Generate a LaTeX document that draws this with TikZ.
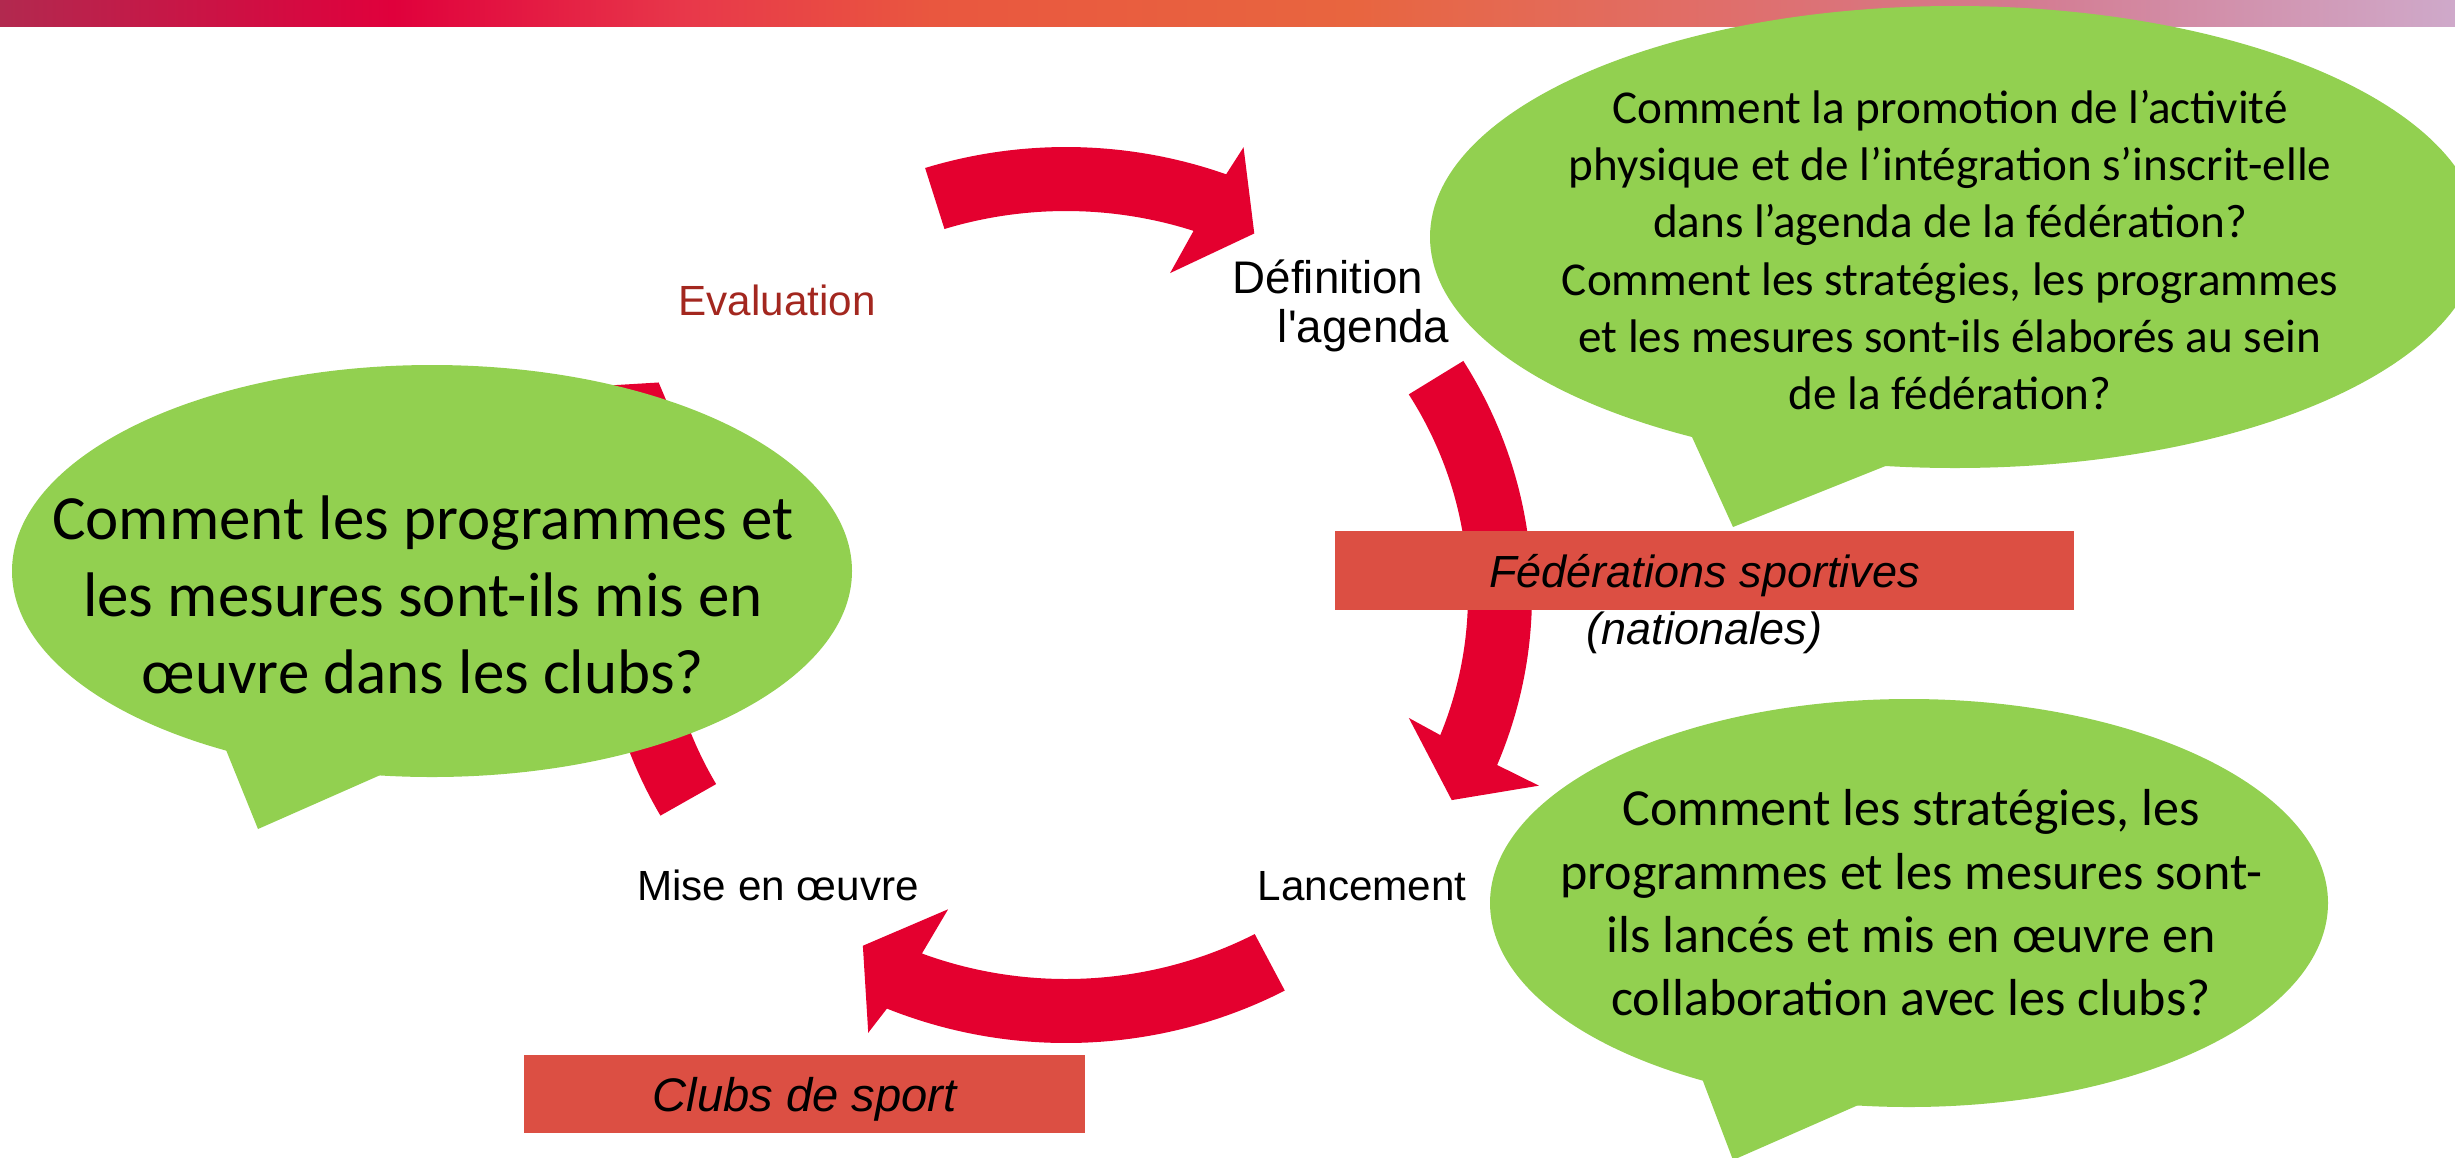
\documentclass[tikz,border=0pt]{standalone}
\usepackage{fontspec}
\setmainfont{Liberation Sans}[Ligatures=TeXOff]
\newfontfamily\calibri{Carlito}
\usetikzlibrary{positioning}

\definecolor{ringred}{HTML}{E4002F}
\definecolor{bubblegreen}{HTML}{92D050}
\definecolor{boxred}{HTML}{DC4F43}
\definecolor{evalred}{HTML}{A3271F}
\definecolor{barA}{HTML}{B2294F}
\definecolor{barB}{HTML}{E0003C}
\definecolor{barC}{HTML}{E8384A}
\definecolor{barD}{HTML}{E9573F}
\definecolor{barE}{HTML}{E8653F}
\definecolor{barF}{HTML}{E06E6A}
\definecolor{barG}{HTML}{D47A8F}
\definecolor{barH}{HTML}{CFA9CA}
% the middle 50bp of a shading is what covers the path
\pgfdeclarehorizontalshading{topbar}{100bp}{color(0bp)=(barA); color(25bp)=(barA); color(33bp)=(barB); color(39bp)=(barC); color(44bp)=(barD); color(52.5bp)=(barE); color(60bp)=(barF); color(66bp)=(barG); color(75bp)=(barH); color(100bp)=(barH)}

\tikzset{
  steplabel/.style={inner sep=0pt, font=\fontsize{12}{14}\selectfont},
  bubble/.style={fill=bubblegreen},
  question/.style={inner sep=0pt, align=center},
  actorbox/.style={fill=boxred, inner sep=0pt, font=\itshape},
}

\begin{document}
\begin{tikzpicture}[x=0.01cm,y=-0.01cm]
\useasboundingbox (0,0) rectangle (2455,1157);
\clip (0,0) rectangle (2455,1157);

% bandeau
\fill[shading=topbar] (0,0) rectangle (2455,26);

% fleches du cycle
\begin{scope}[shift={(1066,595)}]
\fill[ringred] (252.4:466 and 448) arc[start angle=252.4, end angle=290.1, x radius=466, y radius=448]
  -- (290.8:500 and 479) -- (296.5:422 and 404) -- (287.2:352 and 337)
  -- (288.5:402 and 384) arc[start angle=288.5, end angle=252.4, x radius=402, y radius=384] -- cycle;
\fill[ringred] (-31.5:466 and 448) arc[start angle=-31.5, end angle=22.3, x radius=466, y radius=448]
  -- (22.8:513 and 492) -- (29:441 and 423) -- (20.5:366 and 351)
  -- (21.4:402 and 384) arc[start angle=21.4, end angle=-31.5, x radius=402, y radius=384] -- cycle;
\fill[ringred] (62:466 and 448) arc[start angle=62, end angle=112.6, x radius=466, y radius=448]
  -- (113.4:498 and 477) -- (119:419 and 401) -- (109.8:348 and 334)
  -- (111:402 and 384) arc[start angle=111, end angle=62, x radius=402, y radius=384] -- cycle;
\fill[ringred] (150.5:466 and 448) arc[start angle=150.5, end angle=201.9, x radius=466, y radius=448]
  -- (203.7:538 and 516) -- (208.6:464 and 444) -- (199.6:394 and 378)
  -- (200.6:402 and 384) arc[start angle=200.6, end angle=150.5, x radius=402, y radius=384] -- cycle;
\end{scope}

% bulles
\fill[bubble] (1955,237) ellipse [x radius=525, y radius=231];
\fill[bubble] (1687,426) -- (1733,527) -- (1903,459) -- cycle;

\fill[bubble] (432,571) ellipse [x radius=420, y radius=206];
\fill[bubble] (222,740) -- (258,829) -- (394,769) -- cycle;

\fill[bubble] (1909,903) ellipse [x radius=419, y radius=204];
\fill[bubble] (1698,1068) -- (1733,1160) -- (1872,1099) -- cycle;

\node[question, font=\calibri\fontsize{13.4}{16.3}\selectfont] (qagenda) at (1950,250)
  {Comment la promotion de l’activité\\physique et de l’intégration s’inscrit-elle\\dans l’agenda de la fédération?\\Comment les stratégies, les programmes\\et les mesures sont-ils élaborés au sein\\de la fédération?};
\node[question, font=\calibri\fontsize{17.9}{21.8}\selectfont] (qclubs) at (423,595)
  {Comment les programmes et\\les mesures sont-ils mis en\\œuvre dans les clubs?};
\node[question, font=\calibri\fontsize{14.8}{18}\selectfont] (qlaunch) at (1911,903)
  {Comment les stratégies, les\\programmes et les mesures sont-\\ils lancés et mis en œuvre en\\collaboration avec les clubs?};

% etapes
\node[steplabel, text=evalred, anchor=base] (evaluation) at (777,315) {Evaluation};
\node[steplabel, font=\fontsize{13}{15}\selectfont, anchor=base west] (definition) at (1232,293) {Définition};
\node[steplabel, font=\fontsize{13}{15}\selectfont, anchor=base east] (agenda) at (1450,342) {l'agenda};
\node[steplabel, anchor=base] (lancement) at (1362,900) {Lancement};
\node[steplabel, anchor=base] (miseenoeuvre) at (778,900) {Mise en œuvre};

% acteurs
\node[actorbox, minimum width=7.39cm, minimum height=0.79cm, text height=12pt, text depth=2.6pt,
  font=\fontsize{12.8}{15}\selectfont\itshape] (federations) at (1704.5,570.5) {Fédérations sportives};
\node[inner sep=0pt, font=\fontsize{12.8}{15}\selectfont\itshape, below=0pt of federations] (nationales) {(nationales)};
\node[actorbox, minimum width=5.61cm, minimum height=0.78cm, text height=12.3pt, text depth=2.6pt,
  font=\fontsize{13.4}{15}\selectfont\itshape] (clubs) at (804.5,1094) {Clubs de sport};
\end{tikzpicture}
\end{document}
